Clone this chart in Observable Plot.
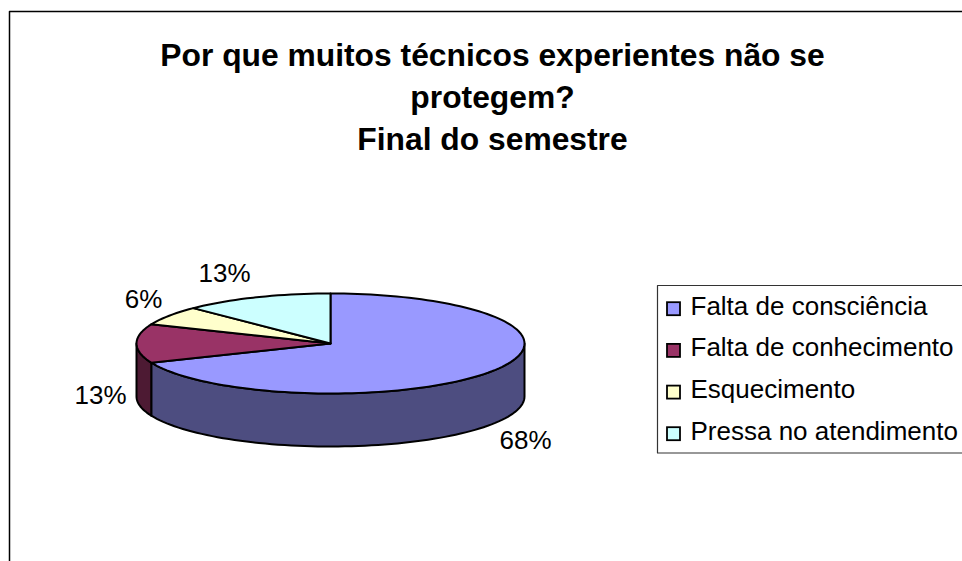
<!DOCTYPE html>
<html><head><meta charset="utf-8">
<script src="https://cdn.jsdelivr.net/npm/d3@7"></script>
<script src="https://cdn.jsdelivr.net/npm/@observablehq/plot@0.6"></script>
<style>html,body{margin:0;padding:0;background:#fff;overflow:hidden}svg{display:block}</style>
</head><body><div id="chart"></div>
<script>
const categories = ["Falta de consciência","Falta de conhecimento","Esquecimento","Pressa no atendimento"];
const shares = [68.75,12.5,6.25,12.5];
const shareLabels = ["68%","13%","6%","13%"];
const topColors = ["#9999FF","#993366","#FFFFCC","#CCFFFF"];
const sideColors = ["#4D4D80","#4D1A33","#808066","#668080"];
const titleLines = ["Por que muitos técnicos experientes não se","protegem?","Final do semestre"];

const W=962,H=561;
const pie={cx:330,cy:343,rx:194,ry:50,depth:53};
const font="Liberation Sans, Arial, sans-serif";
const pt=(deg,dy=0)=>{const a=deg*Math.PI/180;return {x:pie.cx+pie.rx*Math.sin(a),y:pie.cy-pie.ry*Math.cos(a)+dy};};
const arc=(a0,a1,dy=0)=>{const n=Math.max(2,Math.ceil(Math.abs(a1-a0)/2));return d3.range(n+1).map(i=>pt(a0+(a1-a0)*i/n,dy));};

let acc=0;
const slices=shares.map((v,i)=>{const a0=acc*3.6;acc+=v;return {i,a0,a1:acc*3.6};});

const sw=2;
const sideMarks=slices.flatMap(s=>{
  const a0=Math.max(s.a0,90),a1=Math.min(s.a1,270);
  if(a1<=a0) return [];
  const poly=[...arc(a0,a1),...arc(a1,a0,pie.depth)];
  poly.push(poly[0]);
  return [Plot.line(poly,{x:"x",y:"y",fill:sideColors[s.i],stroke:"#000",strokeWidth:sw,curve:"linear",strokeLinejoin:"round"})];
});
const topMarks=slices.map(s=>{
  const poly=[{x:pie.cx,y:pie.cy},...arc(s.a0,s.a1),{x:pie.cx,y:pie.cy}];
  return Plot.line(poly,{x:"x",y:"y",fill:topColors[s.i],stroke:"#000",strokeWidth:sw,curve:"linear",strokeLinejoin:"round"});
});

const labelPos=[{x:525,y:440},{x:100,y:395.5},{x:143,y:299},{x:224,y:273}];
const labelData=shareLabels.map((t,i)=>({t,...labelPos[i]}));
const titleData=titleLines.map((t,i)=>({t,x:492,y:55+i*42}));
const legY=[305.7,347.4,389.1,430.7];
const legData=categories.map((t,i)=>({t,c:topColors[i],y:legY[i]}));

const frame=[{x:9,y:561},{x:9,y:11},{x:962,y:11}];
const legendBox=[{x:962,y:285},{x:657,y:285},{x:657,y:452.5},{x:962,y:452.5}];

const chart=Plot.plot({
  width:W,height:H,margin:0,
  x:{domain:[0,W],range:[0,W],axis:null},
  y:{domain:[0,H],range:[0,H],axis:null},
  style:{background:"#fff",fontFamily:font},
  marks:[
    Plot.line(frame,{x:"x",y:"y",stroke:"#000",strokeWidth:1.5,curve:"linear"}),
    Plot.text(titleData,{x:"x",y:"y",text:"t",fontSize:31.8,fontWeight:"bold",fill:"#000",fontFamily:font}),
    ...sideMarks,
    ...topMarks,
    Plot.text(labelData,{x:"x",y:"y",text:"t",fontSize:26,fill:"#000",fontFamily:font}),
    Plot.line(legendBox,{x:"x",y:"y",stroke:"#333",strokeWidth:1.2,curve:"linear"}),
    Plot.rect(legData,{x1:()=>667,x2:()=>680,y1:d=>d.y-3.5,y2:d=>d.y+9.5,fill:"c",stroke:"#000",strokeWidth:1.8}),
    Plot.text(legData,{x:()=>690,y:"y",text:"t",textAnchor:"start",fontSize:26,fill:"#000",fontFamily:font})
  ]
});
document.getElementById("chart").append(chart);
</script></body></html>
